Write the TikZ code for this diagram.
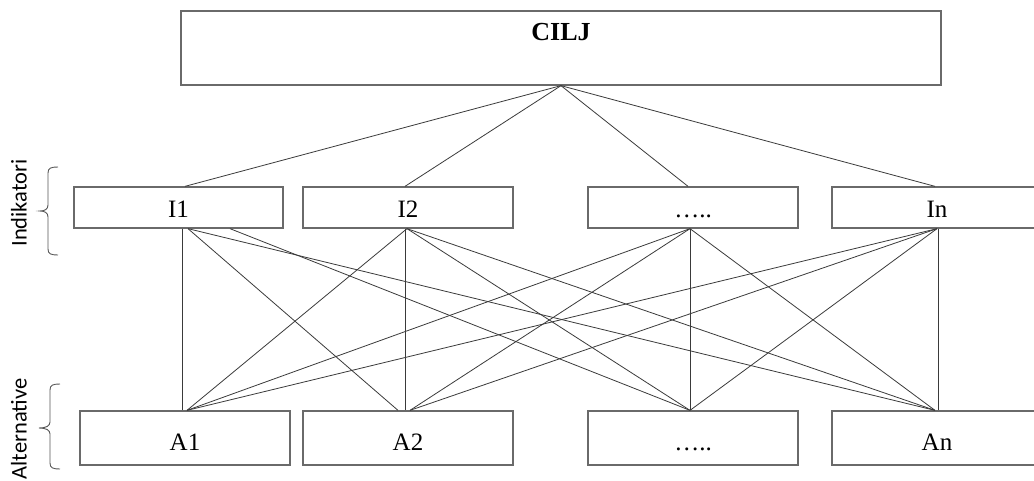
\documentclass[tikz,border=0pt]{standalone}
\usepackage{fontspec}
\setmainfont{Liberation Serif}
\newfontfamily\sidefont{Carlito}
\definecolor{boxgray}{HTML}{6A6A6A}
\definecolor{linegray}{HTML}{3A3A3A}
\definecolor{bracegray}{HTML}{555555}
\begin{document}
\begin{tikzpicture}[x=1pt,y=-1pt,
  box/.style={draw=boxgray, line width=1.3pt, rectangle, inner sep=0pt,
              font=\fontsize{25}{29}\selectfont, text depth=0pt},
  ibox/.style={box, minimum width=210pt, minimum height=41pt, text height=20.5pt},
  abox/.style={box, minimum width=210pt, minimum height=54pt, text height=24.5pt},
  link/.style={draw=linegray, line width=0.8pt},
  bracket/.style={draw=bracegray, line width=0.9pt},
  sidelabel/.style={rotate=90, font=\sidefont\fontsize{22.5}{26}\selectfont, inner sep=0pt}]

\useasboundingbox (0,0) rectangle (1034,480);
\clip (0,0) rectangle (1034,480);

% goal
\node[box, minimum width=760pt, minimum height=74pt] (goal) at (561,48)
  [label={[anchor=base, label distance=-30.5pt, font=\fontsize{26}{30}\selectfont\bfseries]north:CILJ}] {};

% indicators
\node[ibox, minimum width=209pt] (I1) at (178.5,207.5) {I1};
\node[ibox] (I2) at (408,207.5) {I2};
\node[ibox] (I3) at (693,207.5) {…..};
\node[ibox] (In) at (937,207.5) {In};

% alternatives
\node[abox] (A1) at (185,438) {A1};
\node[abox] (A2) at (408,438) {A2};
\node[abox] (A3) at (693,438) {…..};
\node[abox] (An) at (937,438) {An};

% goal to indicators
\draw[link] (goal.south) -- ([xshift=6.5pt]I1.north);
\draw[link] (goal.south) -- ([xshift=-3pt]I2.north);
\draw[link] (goal.south) -- ([xshift=-5pt]I3.north);
\draw[link] (goal.south) -- ([xshift=-2pt]In.north);

% indicators to alternatives
\draw[link] ([xshift=3.5pt]I1.south) -- ([xshift=-3pt]A1.north);
\draw[link] ([xshift=9.5pt]I1.south) -- ([xshift=-10pt]A2.north);
\draw[link] ([xshift=51.5pt]I1.south) -- ([xshift=-3pt]A3.north);
\draw[link] ([xshift=9.5pt]I1.south) -- ([xshift=-2pt]An.north);

\draw[link] ([xshift=-1pt]I2.south) -- ([xshift=2pt]A1.north);
\draw[link] ([xshift=-3pt]I2.south) -- ([xshift=-3pt]A2.north);
\draw[link] ([xshift=-1pt]I2.south) -- ([xshift=-3pt]A3.north);
\draw[link] ([xshift=-1pt]I2.south) -- ([xshift=-2pt]An.north);

\draw[link] ([xshift=-3pt]I3.south) -- ([xshift=2pt]A1.north);
\draw[link] ([xshift=-3pt]I3.south) -- ([xshift=2pt]A2.north);
\draw[link] ([xshift=-3pt]I3.south) -- ([xshift=-3pt]A3.north);
\draw[link] ([xshift=-3pt]I3.south) -- ([xshift=-2pt]An.north);

\draw[link] (In.south) -- ([xshift=2pt]A1.north);
\draw[link] (In.south) -- ([xshift=2pt]A2.north);
\draw[link] (In.south) -- ([xshift=-3pt]A3.north);
\draw[link] ([xshift=1pt]In.south) -- ([xshift=1pt]An.north);

% side braces
\draw[bracket] (58,167) .. controls (51,167) and (48,168) .. (48,173) -- (48,205)
  .. controls (48,209) and (45,211) .. (40,211)
  .. controls (45,211) and (48,213) .. (48,217) -- (48,249)
  .. controls (48,254) and (51,255) .. (58,255);
\draw[bracket] (60,384) .. controls (53,384) and (50,385) .. (50,390) -- (50,422)
  .. controls (50,426) and (46,428) .. (39,428)
  .. controls (46,428) and (50,430) .. (50,434) -- (50,463)
  .. controls (50,468) and (53,469) .. (60,469);

\node[sidelabel] (indlabel) at (19,203) {Indikatori};
\node[sidelabel] (altlabel) at (19,429) {Alternative};
\end{tikzpicture}
\end{document}
